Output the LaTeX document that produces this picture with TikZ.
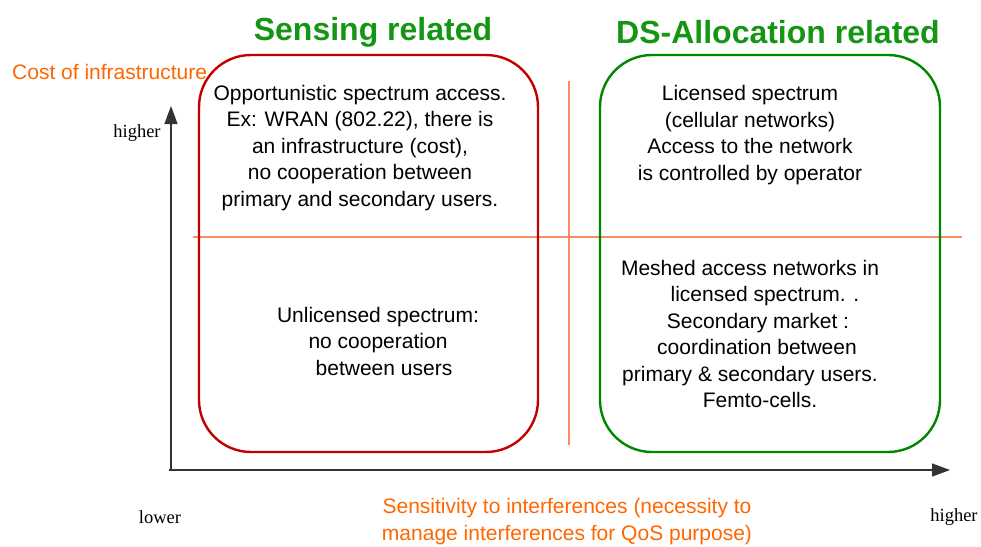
\documentclass[tikz,border=0pt]{standalone}
\usepackage{fontspec}
\setmainfont{Liberation Sans}
\newfontfamily\seriffont{Liberation Serif}
\usetikzlibrary{arrows.meta}
\definecolor{titlegreen}{RGB}{20,150,20}
\definecolor{boxgreen}{RGB}{0,135,0}
\definecolor{boxred}{RGB}{195,0,0}
\definecolor{axisorange}{RGB}{255,102,0}
\definecolor{dividerorange}{RGB}{250,140,100}
\tikzset{
  title/.style={text=titlegreen, font=\fontsize{32}{36}\selectfont\bfseries, inner sep=0pt},
  panel/.style={draw=#1, line width=2.4pt, rounded corners=52pt, inner sep=0pt},
  body/.style={align=center, font=\fontsize{21}{26.5}\selectfont, inner sep=0pt},
  axislabel/.style={text=axisorange, font=\fontsize{21}{27}\selectfont, inner sep=0pt, align=center},
  tick/.style={font=\seriffont\fontsize{18.5}{22}\selectfont, inner sep=0pt},
  axis/.style={draw=black!80, line width=1.3pt, -{Triangle[length=18pt, width=13pt]}},
  divider/.style={draw=dividerorange, line width=#1},
  divider/.default=1.1pt
}
\begin{document}
\begin{tikzpicture}[x=1pt, y=-1pt]
\useasboundingbox (0,0) rectangle (981,546);

% quadrant dividers
\coordinate (hl) at (193,237);
\coordinate (hr) at (962,237);
\coordinate (vt) at (569,81);
\coordinate (vb) at (569,445);
\draw[divider=1.4pt] (hl) -- (hr);
\draw[divider=1.1pt] (vt) -- (vb);

% axes
\coordinate (origin) at (171,470);
\coordinate (ytip) at (171,106);
\coordinate (xtip) at (950,470);
\draw[axis] (origin) -- (ytip);
\draw[axis] ([xshift=-2pt]origin) -- (xtip);

% the two families of approaches
\node[panel=boxred, minimum width=339pt, minimum height=397pt] (sensing) at (368.5,253.5) {};
\node[panel=boxgreen, minimum width=340pt, minimum height=397pt] (alloc) at (770,253.5) {};

\node[title] (tsensing) at (373,32) {Sensing related};
\node[title] (talloc) at (778,32) {DS-Allocation related};

% quadrant contents
\node[body] (q1) at (360,148) {Opportunistic spectrum access.\\Ex: WRAN (802.22), there is\\an infrastructure (cost),\\no cooperation between\\primary and secondary users.};
\node[body] (q2) at (378,341) {Unlicensed spectrum:\\no cooperation\\\hspace*{12pt}between users};
\node[body] (q3) at (750,135) {Licensed spectrum\\(cellular networks)\\Access to the network\\is controlled by operator};
\node[body] (q4) at (750,334) {Meshed access networks in\\\hspace*{30pt}licensed spectrum. .\\\hspace*{16pt}Secondary market :\\\hspace*{14pt}coordination between\\primary \& secondary users.\\\hspace*{20pt}Femto-cells.};

% axis labels
\node[axislabel, anchor=west] (ylabel) at (12,72) {Cost of infrastructure};
\node[axislabel] (xlabel) at (567,522) {Sensitivity to interferences (necessity to\\manage interferences for QoS purpose)};
\node[tick] (yhigh) at (137,133) {higher};
\node[tick] (xlow) at (160,517) {lower};
\node[tick] (xhigh) at (954,517) {higher};
\end{tikzpicture}
\end{document}
